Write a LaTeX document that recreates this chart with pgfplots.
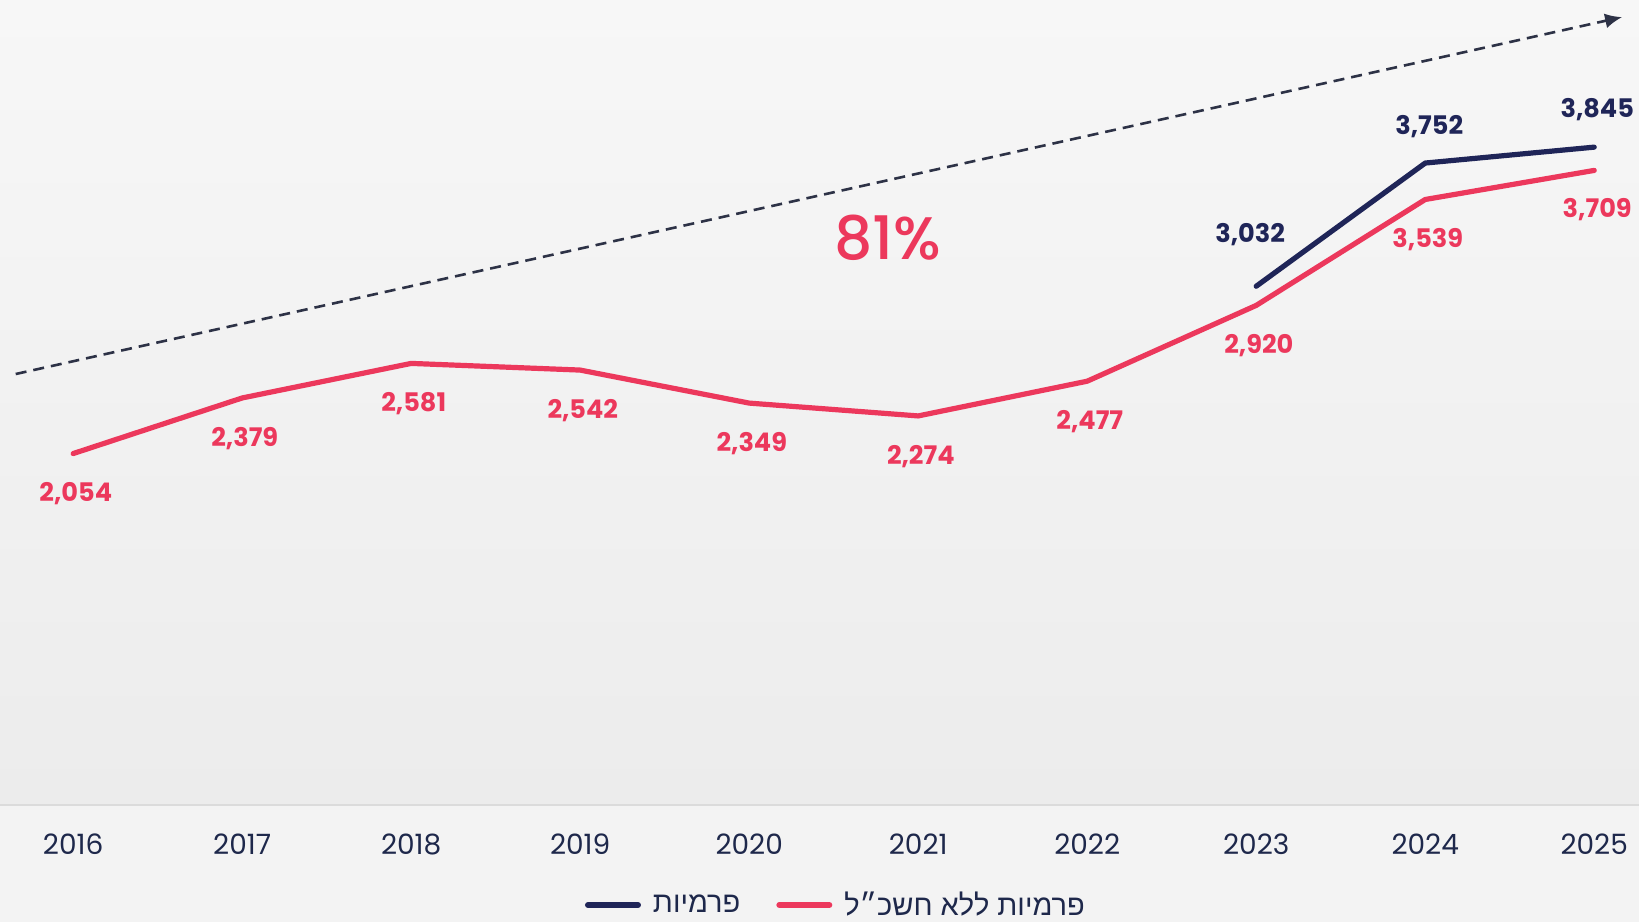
\documentclass[border=0pt]{standalone}
\usepackage{fontspec}
\setmainfont{Poppins}
\newfontfamily\pmedium{Poppins Medium}
\newfontfamily\hebfont[Script=Hebrew]{Liberation Sans}
\usepackage{pgfplots}
\pgfplotsset{compat=1.18}
\usepackage{pgfplotstable}
\usetikzlibrary{arrows.meta}
\TeXXeTstate=1
\definecolor{pinkc}{RGB}{236,56,92}
\definecolor{navyc}{RGB}{31,37,88}
\definecolor{yearc}{RGB}{30,40,75}
\definecolor{dashc}{RGB}{45,50,70}
\definecolor{bgtop}{RGB}{247,247,247}
\definecolor{bgmid}{RGB}{236,236,236}
\definecolor{bgbot}{RGB}{243,243,243}

\pgfplotstableread{
x y lab dx dy
2016 2054 2,054 1.3 -20.2
2017 2379 2,379 1.3 -20.2
2018 2581 2,581 1.3 -20.2
2019 2542 2,542 1.3 -20.2
2020 2349 2,349 1.3 -20.2
2021 2274 2,274 1.3 -20.2
2022 2477 2,477 1.3 -20.2
2023 2920 2,920 1.3 -20.2
2024 3539 3,539 1.3 -20.2
2025 3709 3,709 1.5 -19.8
}\pinkdata

\pgfplotstableread{
x y lab dx dy
2023 3032 3,032 -3 26
2024 3752 3,752 2 18.3
2025 3845 3,845 1.5 18.7
}\navydata

\begin{document}
\begin{tikzpicture}
\shade[top color=bgtop, bottom color=bgmid] (0,0) rectangle (819.5pt,402.5pt);
\fill[bgbot] (0,-58.5pt) rectangle (819.5pt,0pt);
\begin{axis}[
  scale only axis,
  width=819.5pt, height=402.5pt,
  xmin=2015.567, xmax=2025.265,
  ymin=0, ymax=4705,
  axis x line*=bottom,
  hide y axis,
  x axis line style={-, draw=black!14, line width=1.2pt},
  xtick={2016,2017,2018,2019,2020,2021,2022,2023,2024,2025},
  xticklabels={2016,2017,2018,2019,2020,2021,2022,2023,2024,2025},
  major tick length=0pt,
  xtick style={draw=none},
  xticklabel style={font=\fontsize{14}{14}\selectfont, text=yearc, anchor=center, yshift=-19.5pt},
  clip=false,
  legend columns=2,
  legend style={at={(0.51,0)}, anchor=center, yshift=-50pt, draw=none, fill=none,
    inner sep=0pt, nodes={inner sep=1pt},
    font=\hebfont\fontsize{14.5}{14.5}\selectfont, text=yearc,
    /tikz/every odd column/.append style={column sep=5pt},
    /tikz/every even column/.append style={column sep=17pt}},
  legend image code/.code={\draw[#1, line width=3pt, line cap=round] (0pt,0pt) -- (25pt,0pt);},
]
% dashed trend arrow
\addplot[dashc, line width=1.3pt, dash pattern=on 5.5pt off 3.5pt, -{Latex[length=8.5pt,width=7.5pt]}, forget plot]
  coordinates {(2015.66,2519) (2025.165,4605)};

\addplot[navyc, line width=2.6pt, line cap=round, line join=round,
  nodes near coords, point meta=explicit symbolic,
  visualization depends on={\thisrow{dx}\as\dx},
  visualization depends on={\thisrow{dy}\as\dy},
  every node near coord/.append style={font=\bfseries\fontsize{12.8}{12.8}\selectfont, text=navyc, anchor=center, xshift=\dx pt, yshift=\dy pt}]
  table[x=x, y=y, meta=lab] {\navydata};
\addlegendentry{\beginR פרמיות\endR}

\addplot[pinkc, line width=2.6pt, line cap=round, line join=round,
  nodes near coords, point meta=explicit symbolic,
  visualization depends on={\thisrow{dx}\as\dx},
  visualization depends on={\thisrow{dy}\as\dy},
  every node near coord/.append style={font=\bfseries\fontsize{12.8}{12.8}\selectfont, text=pinkc, anchor=center, xshift=\dx pt, yshift=\dy pt}]
  table[x=x, y=y, meta=lab] {\pinkdata};
\addlegendentry{\beginR פרמיות ללא חשכ״ל\endR}

\node[text=pinkc, font=\pmedium\fontsize{30}{30}\selectfont] at (axis cs:2020.82,3314) {81\%};
\end{axis}
\pgfresetboundingbox
\path[use as bounding box] (0,-58.5pt) rectangle (819.5pt,402.5pt);
\end{tikzpicture}
\end{document}
